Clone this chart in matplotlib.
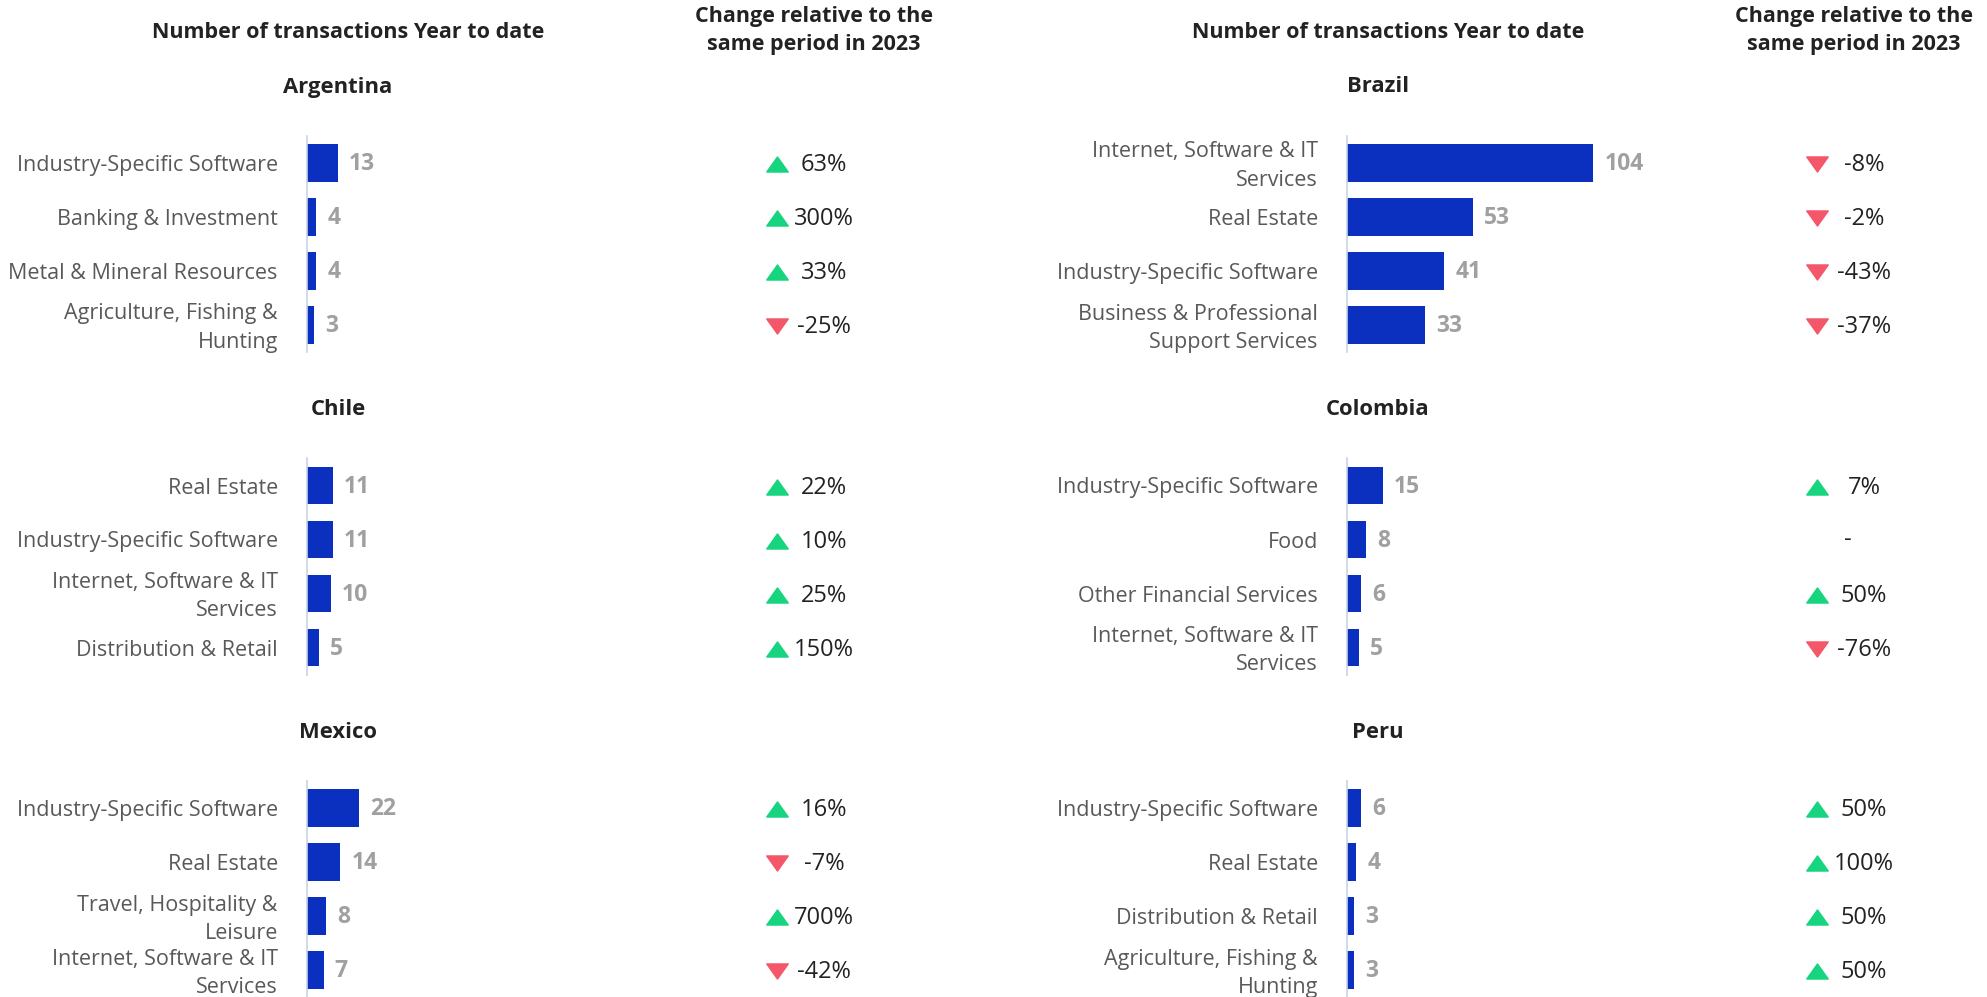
import matplotlib
matplotlib.use("Agg")
import matplotlib.pyplot as plt
from matplotlib.path import Path
from matplotlib.transforms import ScaledTranslation, blended_transform_factory

plt.rcParams['font.family'] = ['Open Sans', 'DejaVu Sans']

# ---- data -------------------------------------------------------------
countries = ["Argentina", "Brazil", "Chile", "Colombia", "Mexico", "Peru"]

argentina_sectors = ["Industry-Specific Software", "Banking & Investment",
                     "Metal & Mineral Resources", "Agriculture, Fishing &\nHunting"]
argentina_counts = [13, 4, 4, 3]
argentina_change = [63, 300, 33, -25]

brazil_sectors = ["Internet, Software & IT\nServices", "Real Estate",
                  "Industry-Specific Software", "Business & Professional\nSupport Services"]
brazil_counts = [104, 53, 41, 33]
brazil_change = [-8, -2, -43, -37]

chile_sectors = ["Real Estate", "Industry-Specific Software",
                 "Internet, Software & IT\nServices", "Distribution & Retail"]
chile_counts = [11, 11, 10, 5]
chile_change = [22, 10, 25, 150]

colombia_sectors = ["Industry-Specific Software", "Food",
                    "Other Financial Services", "Internet, Software & IT\nServices"]
colombia_counts = [15, 8, 6, 5]
colombia_change = [7, None, 50, -76]

mexico_sectors = ["Industry-Specific Software", "Real Estate",
                  "Travel, Hospitality &\nLeisure", "Internet, Software & IT\nServices"]
mexico_counts = [22, 14, 8, 7]
mexico_change = [16, -7, 700, -42]

peru_sectors = ["Industry-Specific Software", "Real Estate",
                "Distribution & Retail", "Agriculture, Fishing &\nHunting"]
peru_counts = [6, 4, 3, 3]
peru_change = [50, 100, 50, 50]

count_header = "Number of transactions Year to date"
change_header = "Change relative to the\nsame period in 2023"

panels = [
    (argentina_sectors, argentina_counts, argentina_change),
    (brazil_sectors, brazil_counts, brazil_change),
    (chile_sectors, chile_counts, chile_change),
    (colombia_sectors, colombia_counts, colombia_change),
    (mexico_sectors, mexico_counts, mexico_change),
    (peru_sectors, peru_counts, peru_change),
]

# ---- styling ----------------------------------------------------------
BAR_COLOR = "#0b2fbf"
AXIS_COLOR = "#c6d3ea"
LABEL_COLOR = "#595959"
VALUE_COLOR = "#a0a0a0"
DARK = "#222222"
UP_COLOR = "#17d47f"
DOWN_COLOR = "#f4566a"

W, H = 1987, 997
fig = plt.figure(figsize=(W / 100, H / 100), dpi=100)

COL_OFFSET = 1040          # horizontal shift of the right column (px)
AXIS_X = 307               # left edge of the bar area (px)
BAR_AREA_W = 450           # width of bar axes (px)
PX_PER_UNIT = 2.37
BAND_TOP = 136             # top of first panel's category band (px)
BAND_H = 216
PANEL_PITCH = 322.5
ARROW_X = 777
PCT_X = 824

# triangle markers, wider than tall
up_tri = Path([(-1, -0.7), (1, -0.7), (0, 0.7), (-1, -0.7)],
              [Path.MOVETO, Path.LINETO, Path.LINETO, Path.CLOSEPOLY])
down_tri = Path([(-1, 0.7), (1, 0.7), (0, -0.7), (-1, 0.7)],
                [Path.MOVETO, Path.LINETO, Path.LINETO, Path.CLOSEPOLY])


def fx(px):
    return px / W


def fy(py):
    return 1 - py / H


# column headers
for col in range(2):
    dx = col * COL_OFFSET
    fig.text(fx(348 + dx), fy(32), count_header, ha="center", va="center",
             fontsize=15.5, fontweight="bold", color=DARK)
    fig.text(fx(814 + dx), fy(30.5), change_header, ha="center", va="center",
             fontsize=15.5, fontweight="bold", color=DARK, linespacing=1.42)

for i, (name, (sectors, counts, changes)) in enumerate(zip(countries, panels)):
    col, row = i % 2, i // 2
    dx = col * COL_OFFSET
    top = BAND_TOP + row * PANEL_PITCH

    ax = fig.add_axes([fx(AXIS_X + dx), fy(top + BAND_H), fx(BAR_AREA_W), BAND_H / H])
    ypos = list(range(len(sectors)))
    ax.barh(ypos, counts, height=0.7, color=BAR_COLOR)
    ax.set_xlim(0, BAR_AREA_W / PX_PER_UNIT)
    ax.set_ylim(len(sectors) - 0.5, -0.5)
    ax.set_yticks(ypos)
    ax.set_yticklabels(sectors, fontsize=15.5, color=LABEL_COLOR, linespacing=1.45)
    ax.tick_params(axis="y", length=0, pad=21)
    # nudge two-line labels so both lines sit evenly around the bar
    for lbl in ax.get_yticklabels():
        if "\n" in lbl.get_text():
            lbl.set_transform(lbl.get_transform() +
                              ScaledTranslation(0, 3 / 100, fig.dpi_scale_trans))
    ax.set_xticks([])
    for s in ("top", "right", "bottom"):
        ax.spines[s].set_visible(False)
    ax.spines["left"].set_color(AXIS_COLOR)
    ax.spines["left"].set_linewidth(1.2)
    ax.patch.set_alpha(0)

    # value labels after each bar
    for y, v in zip(ypos, counts):
        ax.annotate(str(v), (v, y), xytext=(8.0, -1.0), textcoords="offset points",
                    ha="left", va="center", fontsize=16.5, fontweight="bold",
                    color=VALUE_COLOR)

    # country title
    fig.text(fx(338 + dx), fy(top - 49), name, ha="center", va="center",
             fontsize=15.8, fontweight="bold", color=DARK)

    # change column: arrow marker + percentage
    trans_row = blended_transform_factory(fig.transFigure, ax.transData)
    for y, c in zip(ypos, changes):
        if c is None:
            ax.text(fx(PCT_X + dx - 16), y, "-", transform=trans_row,
                    ha="center", va="center", fontsize=17, color=DARK)
            continue
        ax.plot([fx(ARROW_X + dx)], [y + 0.02], transform=trans_row,
                marker=up_tri if c > 0 else down_tri, markersize=15.5,
                color=UP_COLOR if c > 0 else DOWN_COLOR, linestyle="none",
                clip_on=False)
        ax.text(fx(PCT_X + dx), y + 0.04, f"{c}%", transform=trans_row,
                ha="center", va="center", fontsize=17, color=DARK)

fig.savefig("out.png", dpi=100)
